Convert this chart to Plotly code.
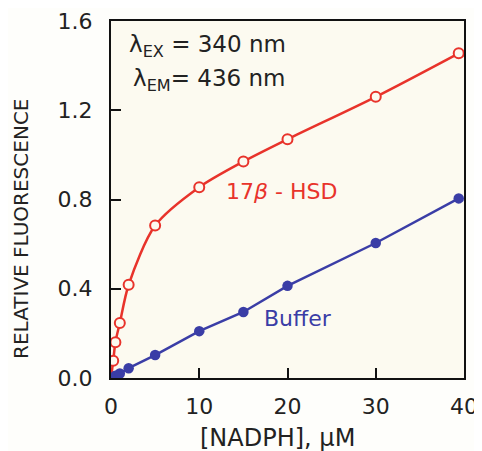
import plotly.graph_objects as go

# Data
hsd_x = [0.25, 0.5, 1, 2, 5, 10, 15, 20, 30, 39.4]
hsd_y = [0.077, 0.16, 0.247, 0.418, 0.683, 0.855, 0.97, 1.07, 1.26, 1.455]
buf_x = [0.5, 1, 2, 5, 10, 15, 20, 30, 39.4]
buf_y = [0.01, 0.02, 0.044, 0.103, 0.21, 0.296, 0.413, 0.605, 0.805]
origin_x = [0]
origin_y = [0]

x_ticks = [0, 10, 20, 30, 40]
y_ticks = [0.0, 0.4, 0.8, 1.2, 1.6]
y_tick_labels = ["0.0", "0.4", "0.8", "1.2", "1.6"]

RED = "#E8332B"
BLUE = "#3A3DA6"
BG = "#FCFAF0"
FONT = "DejaVu Sans"
INK = "#222222"

OFF = 8  # page body margin
W, H = 490, 443
L, T = 111 - OFF, 21 - OFF
R = W - (464 - OFF)
B = H - (378 - OFF)
PW, PH = W - L - R, H - T - B

fig = go.Figure()

fig.add_trace(go.Scatter(
    x=origin_x + hsd_x, y=origin_y + hsd_y, mode="lines",
    line=dict(color=RED, width=2.5, shape="spline", smoothing=0.8),
    hoverinfo="skip", showlegend=False))
fig.add_trace(go.Scatter(
    x=hsd_x, y=hsd_y, mode="markers",
    marker=dict(symbol="circle", size=10, color=BG, line=dict(color=RED, width=2)),
    showlegend=False))
fig.add_trace(go.Scatter(
    x=origin_x + buf_x, y=origin_y + buf_y, mode="lines",
    line=dict(color=BLUE, width=2.5),
    hoverinfo="skip", showlegend=False))
fig.add_trace(go.Scatter(
    x=buf_x, y=buf_y, mode="markers",
    marker=dict(symbol="circle", size=10.5, color=BLUE),
    showlegend=False))

def px_x(p):
    return (p - OFF - L) / PW

def px_y(p):
    return 1 - (p - OFF - T) / PH

fig.add_annotation(x=px_x(127), y=px_y(46), xref="paper", yref="paper", xanchor="left", yanchor="middle",
                   text="λ<sub>EX</sub> = 340 nm", showarrow=False,
                   font=dict(family=FONT, size=23, color=INK))
fig.add_annotation(x=px_x(131), y=px_y(80), xref="paper", yref="paper", xanchor="left", yanchor="middle",
                   text="λ<sub>EM</sub>= 436 nm", showarrow=False,
                   font=dict(family=FONT, size=23, color=INK))
fig.add_annotation(x=px_x(224), y=px_y(191), xref="paper", yref="paper", xanchor="left", yanchor="middle",
                   text="17<i>β</i> - HSD", showarrow=False,
                   font=dict(family=FONT, size=22, color=RED))
fig.add_annotation(x=px_x(262), y=px_y(318), xref="paper", yref="paper", xanchor="left", yanchor="middle",
                   text="Buffer", showarrow=False,
                   font=dict(family=FONT, size=22, color=BLUE))
# axis titles
fig.add_annotation(x=px_x(21), y=px_y(229), xref="paper", yref="paper", xanchor="center", yanchor="middle",
                   text="RELATIVE FLUORESCENCE", textangle=-90, showarrow=False,
                   font=dict(family=FONT, size=20, color=INK))
fig.add_annotation(x=px_x(277), y=px_y(438), xref="paper", yref="paper", xanchor="center", yanchor="middle",
                   text="[NADPH], μM", showarrow=False,
                   font=dict(family=FONT, size=24, color=INK))

axis_common = dict(
    showgrid=False, zeroline=False, showline=True, linecolor="#111", linewidth=2,
    mirror=True, ticks="inside", ticklen=10, tickwidth=2, tickcolor="#111",
    automargin=False,
    tickfont=dict(family=FONT, size=22, color=INK))

fig.update_xaxes(range=[0, 40], tickvals=x_ticks, ticktext=[str(v) for v in x_ticks],
                 ticklabelstandoff=8, **axis_common)
fig.update_yaxes(range=[0, 1.6], tickvals=y_ticks, ticktext=y_tick_labels,
                 ticklabelstandoff=12, **axis_common)

fig.update_layout(
    width=W, height=H,
    margin=dict(l=L, r=R, t=T, b=B, autoexpand=False),
    paper_bgcolor="#FEFEFB", plot_bgcolor=BG,
    showlegend=False)

fig.write_html("out.html")
